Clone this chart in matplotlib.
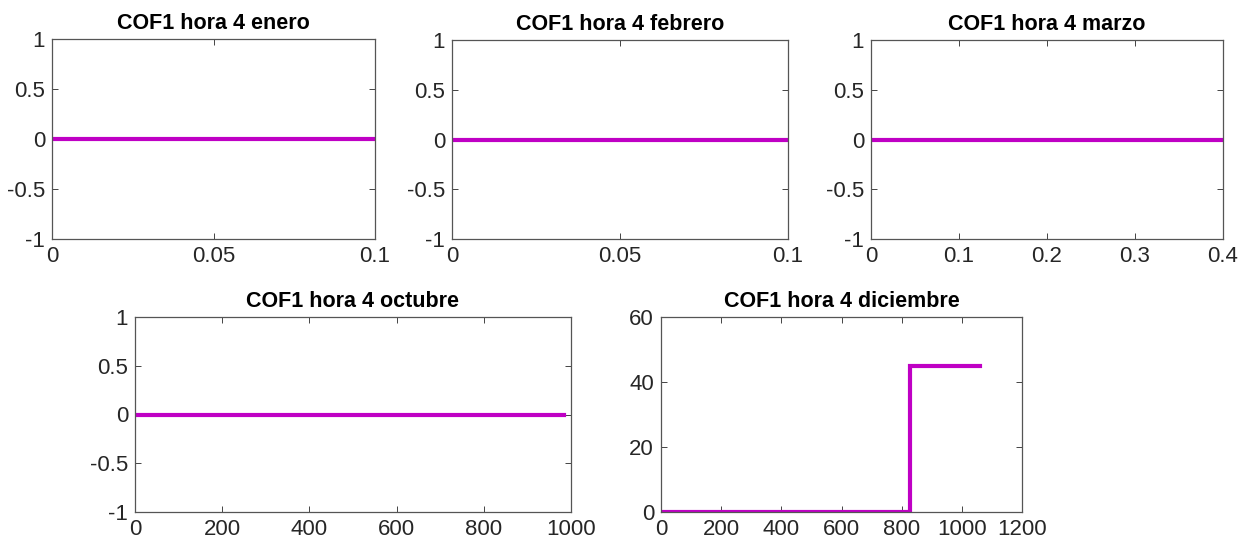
#!/usr/bin/env python3
# -*- coding: utf-8 -*-

"""
COF1 hora 4: evolución por mes
"""

import matplotlib
matplotlib.use('Agg')
import matplotlib.pyplot as plt
from matplotlib.ticker import FuncFormatter

# datos por mes
enero_x = [0, 0.1]
enero_y = [0, 0]
febrero_x = [0, 0.1]
febrero_y = [0, 0]
marzo_x = [0, 0.4]
marzo_y = [0, 0]
octubre_x = [0, 985]
octubre_y = [0, 0]
diciembre_x = [0, 827, 1062]
diciembre_y = [0, 45, 45]

meses = ['enero', 'febrero', 'marzo', 'octubre', 'diciembre']

# ticks de cada subgráfico
xticks = {
    'enero': [0, 0.05, 0.1],
    'febrero': [0, 0.05, 0.1],
    'marzo': [0, 0.1, 0.2, 0.3, 0.4],
    'octubre': [0, 200, 400, 600, 800, 1000],
    'diciembre': [0, 200, 400, 600, 800, 1000, 1200],
}
yticks = {
    'enero': [-1, -0.5, 0, 0.5, 1],
    'febrero': [-1, -0.5, 0, 0.5, 1],
    'marzo': [-1, -0.5, 0, 0.5, 1],
    'octubre': [-1, -0.5, 0, 0.5, 1],
    'diciembre': [0, 20, 40, 60],
}

series = {
    'enero': (enero_x, enero_y),
    'febrero': (febrero_x, febrero_y),
    'marzo': (marzo_x, marzo_y),
    'octubre': (octubre_x, octubre_y),
    'diciembre': (diciembre_x, diciembre_y),
}

W, H = 1251, 542
# posiciones en pixeles: izquierda, derecha, arriba, abajo
posiciones = {
    'enero': (52, 375, 39, 239),
    'febrero': (452, 788, 40, 239),
    'marzo': (871, 1223, 40, 239),
    'octubre': (135, 571, 317, 512),
    'diciembre': (661, 1022, 317, 512),
}

plt.rcParams['font.family'] = ['Liberation Sans', 'DejaVu Sans']
plt.rcParams['axes.unicode_minus'] = False

COLOR = '#BF00C4'
GRIS = '#262626'

fig = plt.figure(figsize=(W / 100, H / 100), dpi=100)
fig.patch.set_facecolor('white')

fmt = FuncFormatter(lambda v, p: ('%g' % v))

for mes in meses:
    l, r, t, b = posiciones[mes]
    ax = fig.add_axes([l / W, 1 - b / H, (r - l) / W, (b - t) / H])
    x, y = series[mes]
    if mes == 'diciembre':
        ax.step(x, y, where='post', color=COLOR, lw=3, solid_joinstyle='miter')
    else:
        ax.plot(x, y, color=COLOR, lw=3)

    xt = xticks[mes]
    yt = yticks[mes]
    ax.set_xlim(xt[0], xt[-1])
    ax.set_ylim(yt[0], yt[-1])
    ax.set_xticks(xt)
    ax.set_yticks(yt)
    ax.xaxis.set_major_formatter(fmt)
    ax.yaxis.set_major_formatter(fmt)

    ax.tick_params(direction='in', length=4, width=0.7, colors='#444444',
                   top=True, right=True, labelsize=16, labelcolor=GRIS)
    ax.tick_params(axis='x', pad=5)
    ax.tick_params(axis='y', pad=5)
    for s in ax.spines.values():
        s.set_color('#555555')
        s.set_linewidth(0.9)

    ax.set_title('COF1 hora 4 ' + mes, fontsize=15.5, fontweight='bold',
                 color='black', pad=7)

fig.savefig('out.png', dpi=100, facecolor='white')
